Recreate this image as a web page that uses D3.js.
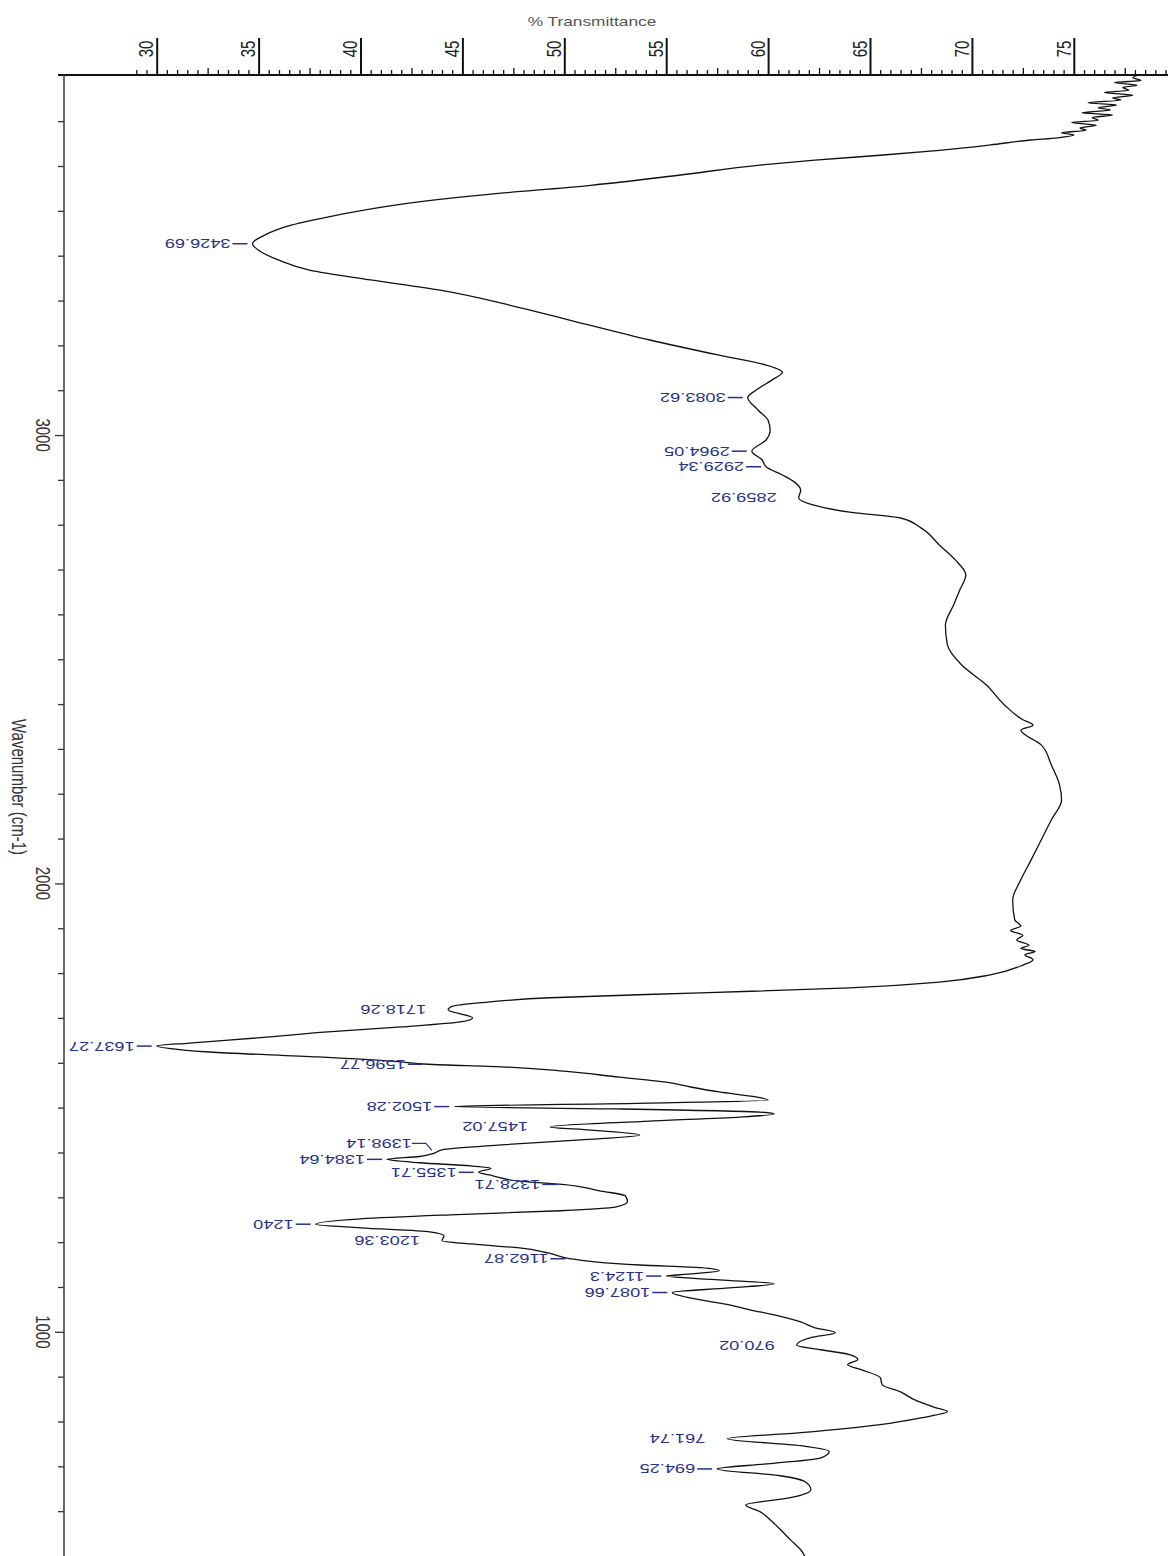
<!DOCTYPE html>
<html>
<head>
<meta charset="utf-8">
<script src="https://cdn.jsdelivr.net/npm/d3@7"></script>
<style>
  html, body { margin: 0; padding: 0; background: #fff; }
  svg { display: block; }
  text { font-family: "Liberation Sans", Arial, sans-serif; }
</style>
</head>
<body>
<svg id="chart" width="1168" height="1556"></svg>
<script>
// IR spectrum: wavenumber (cm-1) runs down the page, % transmittance across.
const wavenumber = [
  3803, 3797, 3791, 3786, 3780, 3775, 3769, 3764, 3758, 3752, 3747, 3741, 3736, 3730, 3725, 3719,
  3714, 3708, 3702, 3697, 3691, 3685, 3680, 3674, 3669, 3663, 3658, 3647, 3635,
  3624, 3613, 3602, 3580, 3557, 3535, 3513, 3490, 3468, 3446, 3426.69, 3412, 3390, 3368, 3346, 3323,
  3290, 3256, 3212, 3178, 3156, 3140, 3123, 3100, 3083.62, 3056, 3033, 3011, 2989, 2964.05, 2945,
  2929.34, 2911, 2895, 2877, 2859.92, 2844, 2828, 2815, 2793, 2755, 2721, 2688, 2654, 2621, 2576,
  2532, 2487, 2443, 2398, 2365, 2353, 2342, 2309, 2264, 2220, 2186, 2142, 2097, 2052, 2008, 1963,
  1919, 1905, 1895, 1884, 1874, 1862, 1855, 1848, 1841, 1830, 1818, 1796, 1780, 1767, 1756, 1745, 1734, 1726, 1718.26, 1700, 1691, 1680, 1669,
  1656, 1644, 1637.27, 1629, 1624, 1613, 1602, 1596.77, 1591, 1582, 1568, 1557, 1546, 1535, 1524,
  1517, 1510, 1502.28, 1497, 1490, 1486, 1479, 1470, 1457.02, 1450, 1439, 1428, 1417, 1406, 1398.14,
  1391, 1384.64, 1377, 1370, 1365, 1355.71, 1348, 1336, 1328.71, 1314, 1303, 1290, 1278, 1270, 1261,
  1252, 1240, 1232, 1223, 1214, 1203.36, 1196, 1187, 1176, 1162.87, 1156, 1149, 1143, 1136, 1129,
  1124.3, 1116, 1107, 1098, 1087.66, 1071, 1060, 1049, 1038, 1022, 1009, 998, 987, 970.02, 960, 949,
  938, 927, 915, 898, 882, 866, 848, 831, 822, 808, 793, 775, 761.74, 746, 733, 719, 706, 694.25,
  679, 666, 648, 630, 614, 599, 581, 559, 536, 514, 500
];
const transmittance = [
  78.2, 77.9, 78.3, 77.0, 78.1, 77.4, 77.7, 76.5, 77.9, 76.9, 77.3, 75.7, 77.1, 76.2, 76.8, 75.4,
  76.9, 75.9, 76.2, 74.9, 76.1, 75.3, 75.6, 74.4, 75.0, 74.2, 72.9, 70.9, 68.4,
  65.5, 62.3, 59.6, 55.7, 51.3, 45.9, 41.7, 38.8, 36.6, 35.3, 34.7, 35.0, 36.0, 37.5, 40.5, 43.9,
  47.3, 50.3, 54.2, 57.6, 59.9, 60.7, 60.2, 59.4, 59.0, 59.5, 60.0, 60.1, 59.9, 59.2, 59.7,
  59.9, 60.7, 61.3, 61.6, 61.5, 62.2, 64.0, 66.5, 67.5, 68.4, 69.2, 69.7, 69.4, 69.1, 68.7,
  68.8, 69.5, 70.7, 71.6, 72.5, 73.0, 72.4, 73.4, 73.9, 74.3, 74.4, 73.9, 73.4, 72.9, 72.4, 72.0,
  72.1, 72.4, 71.9, 72.5, 72.2, 72.8, 72.4, 73.1, 72.6, 73.0, 72.5, 70.9, 68.4, 64.0, 56.7, 49.3, 45.9, 44.5, 44.3, 45.5, 44.9, 42.0, 38.4,
  35.1, 31.6, 30.0, 31.2, 32.6, 37.9, 42.0, 43.3, 46.9, 49.8, 52.7, 55.0, 56.2, 57.6, 59.4,
  60.0, 54.2, 44.6, 52.7, 59.6, 60.3, 58.6, 54.2, 49.3, 51.3, 53.7, 50.8, 46.9, 44.0, 43.6,
  42.9, 41.3, 42.9, 45.4, 46.4, 45.8, 46.5, 47.8, 49.9, 51.8, 53.0, 53.1, 52.5, 49.8, 44.4,
  40.0, 37.8, 40.0, 43.4, 44.1, 44.0, 45.4, 47.8, 49.2, 50.3, 51.5, 53.7, 56.7, 57.6, 56.2,
  55.0, 57.6, 60.3, 58.1, 55.3, 56.7, 58.1, 59.1, 60.3, 61.6, 62.3, 63.3, 62.1, 61.4, 62.6, 64.0,
  64.4, 63.9, 64.6, 65.5, 65.6, 66.5, 67.2, 68.2, 68.8, 67.5, 65.5, 61.6, 58.0, 61.6, 63.0, 62.6, 60.1, 57.5,
  60.6, 61.8, 62.1, 61.1, 58.9, 59.6, 60.1, 60.6, 61.1, 61.6, 61.8
];

// Peak picks and the text printed beside each one
const peakWavenumbers = [3426.69, 3083.62, 2964.05, 2929.34, 2859.92, 1718.26, 1637.27, 1596.77,
  1502.28, 1457.02, 1398.14, 1384.64, 1355.71, 1328.71, 1240, 1203.36, 1162.87, 1124.3, 1087.66,
  970.02, 761.74, 694.25];
const peakLabels = ["3426.69", "3083.62", "2964.05", "2929.34", "2859.92", "1718.26", "1637.27", "1596.77",
  "1502.28", "1457.02", "1398.14", "1384.64", "1355.71", "1328.71", "1240", "1203.36", "1162.87", "1124.3", "1087.66",
  "970.02", "761.74", "694.25"];
const peakHasLeader = [true, true, true, true, false, false, true, true,
  true, false, true, true, true, true, true, false, true, true, true,
  false, false, true];

const transmittanceTicks = [30, 35, 40, 45, 50, 55, 60, 65, 70, 75];
const wavenumberTicks = [3000, 2000, 1000];
const axisTitleTop = "% Transmittance";
const axisTitleLeft = "Wavenumber (cm-1)";

const W = 1168, H = 1556;
const svg = d3.select("#chart");
const plotTop = 75, plotLeft = 64;

const x = d3.scaleLinear().domain([30, 75]).range([156.7, 1073.8]);
const y = d3.scaleLinear().domain([3803, 500]).range([plotTop, H]);
const TEXT_STRETCH = 1.33;

// ---- top axis (% transmittance) ----
const minorT = d3.range(29, 79.51, 0.5).filter(v => v % 5 !== 0);
const gTop = svg.append("g").attr("transform", `translate(0,${plotTop})`);

gTop.append("g")
  .call(d3.axisTop(x).tickValues(minorT.filter(v => Math.abs(v % 5 - 2.5) > 0.01)).tickSize(5).tickFormat(""))
  .call(g => g.select(".domain").remove())
  .call(g => g.selectAll("line").attr("stroke", "#111").attr("stroke-width", 1.3));
gTop.append("g")
  .call(d3.axisTop(x).tickValues(minorT.filter(v => Math.abs(v % 5 - 2.5) < 0.01)).tickSize(7).tickFormat(""))
  .call(g => g.select(".domain").remove())
  .call(g => g.selectAll("line").attr("stroke", "#111").attr("stroke-width", 1.3));
gTop.append("g")
  .call(d3.axisTop(x).tickValues(transmittanceTicks).tickSize(37).tickFormat(""))
  .call(g => g.select(".domain").remove())
  .call(g => g.selectAll("line").attr("stroke", "#111").attr("stroke-width", 2));

gTop.selectAll("text.tlab")
  .data(transmittanceTicks)
  .join("text")
  .attr("class", "tlab")
  .attr("transform", d => `translate(${x(d) - 10},${-26}) scale(${TEXT_STRETCH},1) rotate(-90)`)
  .attr("text-anchor", "middle")
  .attr("dominant-baseline", "central")
  .attr("font-size", 15)
  .attr("fill", "#222")
  .text(d => d);

gTop.append("line")
  .attr("x1", plotLeft - 6).attr("x2", W)
  .attr("y1", 0).attr("y2", 0)
  .attr("stroke", "#111").attr("stroke-width", 2);

svg.append("text")
  .attr("transform", `translate(592,21) scale(${TEXT_STRETCH},1)`)
  .attr("text-anchor", "middle")
  .attr("dominant-baseline", "central")
  .attr("font-size", 13)
  .attr("fill", "#555")
  .text(axisTitleTop);

// ---- left axis (wavenumber) ----
const gLeft = svg.append("g").attr("transform", `translate(${plotLeft},0)`);
const minorW = d3.range(600, 3800, 100).filter(v => !wavenumberTicks.includes(v));
gLeft.append("g")
  .call(d3.axisLeft(y).tickValues(minorW).tickSize(6).tickFormat(""))
  .call(g => g.select(".domain").remove())
  .call(g => g.selectAll("line").attr("stroke", "#333").attr("stroke-width", 1.3));
gLeft.append("g")
  .call(d3.axisLeft(y).tickValues(wavenumberTicks).tickSize(9).tickFormat(""))
  .call(g => g.select(".domain").remove())
  .call(g => g.selectAll("line").attr("stroke", "#333").attr("stroke-width", 1.3));
gLeft.append("line")
  .attr("x1", 0).attr("x2", 0)
  .attr("y1", plotTop).attr("y2", H)
  .attr("stroke", "#444").attr("stroke-width", 1.6);

gLeft.selectAll("text.wlab")
  .data(wavenumberTicks)
  .join("text")
  .attr("class", "wlab")
  .attr("transform", d => `translate(-21,${y(d)}) scale(${TEXT_STRETCH},1) rotate(90)`)
  .attr("text-anchor", "middle")
  .attr("dominant-baseline", "central")
  .attr("font-size", 15)
  .attr("fill", "#333")
  .text(d => d);

svg.append("text")
  .attr("transform", `translate(19,787) scale(${TEXT_STRETCH},1) rotate(90)`)
  .attr("text-anchor", "middle")
  .attr("dominant-baseline", "central")
  .attr("font-size", 15)
  .attr("fill", "#333")
  .text(axisTitleLeft);

// ---- spectrum trace ----
const points = wavenumber.map((w, i) => [w, transmittance[i]]);
const line = d3.line().curve(d3.curveMonotoneY).x(d => x(d[1])).y(d => y(d[0]));
svg.append("path")
  .datum(points)
  .attr("d", line)
  .attr("fill", "none")
  .attr("stroke", "#111")
  .attr("stroke-width", 1.3)
  .attr("stroke-linejoin", "round");

// ---- peak annotations ----
const labelColor = "#27318c";
const peaks = peakWavenumbers.map((w, i) => {
  const idx = wavenumber.indexOf(w);
  return { w, t: transmittance[idx], label: peakLabels[i], leader: peakHasLeader[i] };
});
// a label that would collide with the one just below it is lifted and gets an elbow leader
peaks.forEach((p, i) => {
  p.py = y(p.w);
  p.ly = p.py;
  const next = peaks[i + 1];
  if (next && y(next.w) - p.py < 10) p.ly = p.py - 10;
});

const gPeaks = svg.append("g");
peaks.forEach(p => {
  const px = x(p.t);
  const tipGap = 5, leadLen = 15;
  const textEnd = px - tipGap - leadLen - 2;
  if (p.leader) {
    if (p.ly !== p.py) {
      gPeaks.append("path")
        .attr("d", `M${textEnd},${p.ly} L${px - 8},${p.ly} L${px - 2},${p.py - 3}`)
        .attr("fill", "none").attr("stroke", labelColor).attr("stroke-width", 1.2);
    } else {
      gPeaks.append("line")
        .attr("x1", px - tipGap - leadLen).attr("x2", px - tipGap)
        .attr("y1", p.py).attr("y2", p.py)
        .attr("stroke", labelColor).attr("stroke-width", 1.5);
    }
  }
  gPeaks.append("text")
    .attr("transform", `translate(${textEnd},${p.ly}) scale(1.4,1) rotate(180)`)
    .attr("text-anchor", "start")
    .attr("dominant-baseline", "central")
    .attr("font-size", 13)
    .attr("fill", labelColor)
    .text(p.label);
});
</script>
</body>
</html>
